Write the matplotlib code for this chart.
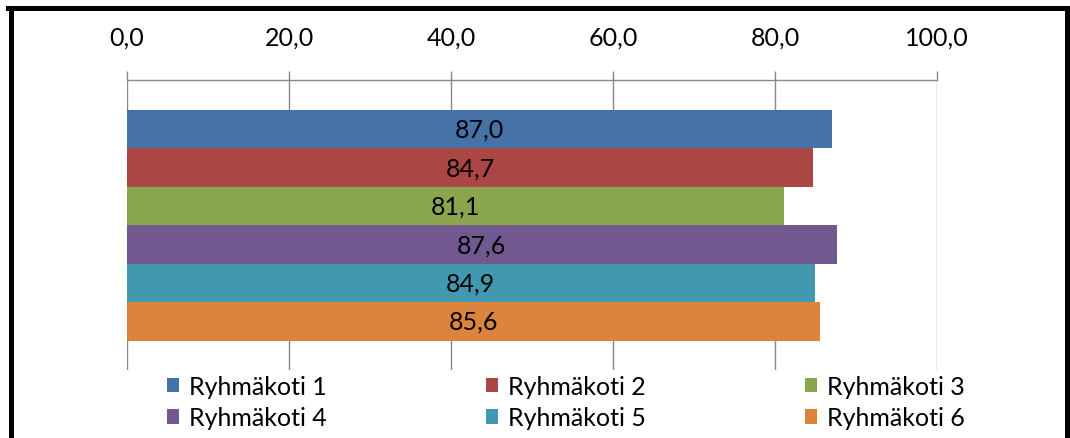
import matplotlib.pyplot as plt
from matplotlib.lines import Line2D
from matplotlib.patches import Patch

# Ryhmäkotien tulokset (%)
groups = ["Ryhmäkoti 1", "Ryhmäkoti 2", "Ryhmäkoti 3",
          "Ryhmäkoti 4", "Ryhmäkoti 5", "Ryhmäkoti 6"]
values = [87.0, 84.7, 81.1, 87.6, 84.9, 85.6]
colors = ["#4572A7", "#AA4643", "#89A54E", "#71588F", "#4198AF", "#DB843D"]
xticks = [0, 20, 40, 60, 80, 100]

plt.rcParams['font.family'] = ['Lato', 'DejaVu Sans']
fs = 18

W, H = 1070, 439
fig = plt.figure(figsize=(W / 100, H / 100), dpi=100)
ax = fig.add_axes([127 / W, 1 - 371 / H, 810 / W, 290 / H])

pos = list(range(len(values)))
ax.barh(pos, values, height=1.0, color=colors, zorder=2)
for p, v in zip(pos, values):
    ax.text(v / 2, p, f"{v:.1f}".replace(".", ","), ha="center", va="center",
            fontsize=fs, color="black", zorder=3)

ax.set_xlim(0, 100)
ax.set_ylim(5.5 + 0.76, -0.5 - 0.78)
ax.set_xticks(xticks)
ax.set_xticklabels([f"{t:.1f}".replace(".", ",") for t in xticks], fontsize=fs)
ax.xaxis.tick_top()
ax.tick_params(axis="x", direction="out", length=6.5, width=1, color="#888888", pad=16)
ax.set_yticks([])
ax.grid(axis="x", color="#888888", linewidth=1, zorder=1)
for side in ["left", "right", "bottom"]:
    ax.spines[side].set_visible(False)
ax.spines["top"].set_color("#888888")
ax.spines["top"].set_linewidth(1)

# selite kolmessa sarakkeessa
handles = [Patch(facecolor=c, edgecolor="none") for c in colors]
order = [0, 3, 1, 4, 2, 5]
fig.legend([handles[i] for i in order], [groups[i] for i in order], ncol=3,
           loc="center left", bbox_to_anchor=(154 / W, 1 - 403 / H), frameon=False,
           fontsize=fs, handlelength=0.5, handleheight=0.5, handletextpad=0.4,
           columnspacing=6.35, labelspacing=0.35, borderpad=0)

# musta kehys kuvan ympärillä
lw = 5 * 72 / 100
for (x0, y0), (x1, y1) in [((10.5, H + 10), (10.5, 8.5)), ((8, 8.5), (1069, 8.5)),
                            ((1066.5, 8.5), (1066.5, H + 10))]:
    fig.add_artist(Line2D([x0 / W, x1 / W], [1 - y0 / H, 1 - y1 / H],
                          color="black", linewidth=lw, transform=fig.transFigure))

fig.savefig("out.png", dpi=100)
